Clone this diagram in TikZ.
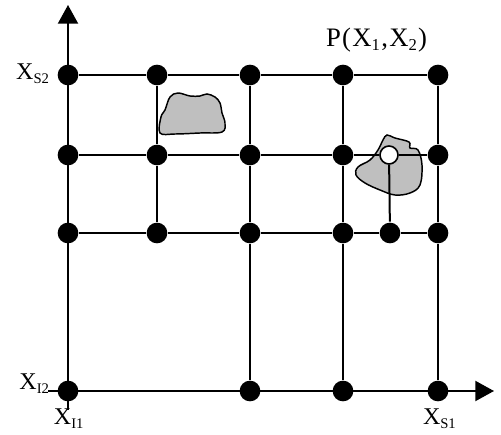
\documentclass[tikz,border=0pt]{standalone}
\usepackage{fontspec}
\setmainfont{Liberation Serif}
\usetikzlibrary{arrows.meta}
\newcommand{\lowsub}[1]{\raisebox{-0.3ex}{\fontsize{11}{12}\selectfont #1}}
\newcommand{\bigsub}[1]{\raisebox{-0.3ex}{\fontsize{12.5}{13}\selectfont #1}}

\begin{document}
\begin{tikzpicture}[x=0.75pt,y=-0.75pt,line width=1.5pt,
  dot/.style={circle,fill=black,minimum size=15.5pt,inner sep=0pt},
  hole/.style={circle,draw=black,fill=white,line width=1.2pt,minimum size=13.5pt,inner sep=0pt},
  lbl/.style={inner sep=0pt,font=\fontsize{18}{20}\selectfont},
  blob/.style={draw=black,fill=black!25,line width=1.1pt},
  axisarrow/.style={-{Triangle[length=14pt,width=15pt]}}]
        \useasboundingbox (0,0) rectangle (501,435);

        % obstacles
        \draw[blob] plot[smooth cycle,tension=0.6] coordinates {(160,133) (161,117) (165,110) (170,97) (178,93) (190,96) (200,96) (207,94) (215,97) (220,103) (222,113) (225,123) (222,132) (200,133) (175,134)};
        \draw[blob] plot[smooth cycle,tension=0.6] coordinates {(387,135) (395,138) (409,142) (410,148) (418,150) (422,165) (420,185) (410,193) (395,195) (380,190) (365,183) (356,175) (358,167) (370,160) (378,150) (383,140)};

        % grid points
        \node (a1)[dot] at (68,75) {};
        \node (a2)[dot] at (157,75) {};
        \node (a3)[dot] at (250,75) {};
        \node (a4)[dot] at (343,75) {};
        \node (a5)[dot] at (438,75) {};

        \node (b1)[dot] at (68,155) {};
        \node (b2)[dot] at (157,155) {};
        \node (b3)[dot] at (250,155) {};
        \node (b4)[dot] at (343,155) {};
        \node (bP)[hole] at (389,155) {};
        \node (b5)[dot] at (438,155) {};

        \node (c1)[dot] at (68,233) {};
        \node (c2)[dot] at (157,233) {};
        \node (c3)[dot] at (250,233) {};
        \node (c4)[dot] at (343,233) {};
        \node (c6)[dot] at (390,233) {};
        \node (c5)[dot] at (438,233) {};

        \node (d1)[dot] at (68,391) {};
        \node (d3)[dot] at (250,391) {};
        \node (d4)[dot] at (343,391) {};
        \node (d5)[dot] at (438,391) {};

        \coordinate (yt) at (68,5);
        \coordinate (yb) at (68,410);
        \coordinate (xl) at (48,391);
        \coordinate (xr) at (494,391);

        % labels
        \node (ls2)[lbl,anchor=base east] at (50,80) {X\lowsub{S2}};
        \node (li2)[lbl,anchor=base east] at (50,390) {X\lowsub{I2}};
        \node (li1)[lbl,anchor=base west] at (53,425) {X\lowsub{I1}};
        \node (ls1)[lbl,anchor=base west] at (422,425) {X\lowsub{S1}};
        \node (pt)[lbl,anchor=base west,font=\fontsize{20}{22}\selectfont] at (325,47)
            {P\kern1pt(\kern1ptX\bigsub{1}\kern1pt,\kern1ptX\bigsub{2}\kern1pt)};

        % grid lines
        \draw (a1) -- (a2) -- (a3) -- (a4) -- (a5);
        \draw (b1) -- (b2) -- (b3) -- (b4) -- (bP) -- (b5);
        \draw (c1) -- (c2) -- (c3) -- (c4) -- (c6) -- (c5);
        \draw (a2) -- (b2) -- (c2);
        \draw (a3) -- (b3) -- (c3) -- (d3);
        \draw (a4) -- (b4) -- (c4) -- (d4);
        \draw (a5) -- (b5) -- (c5) -- (d5);
        \draw (bP) -- (c6);

        % axes
        \draw[axisarrow] (yb) -- (yt);
        \draw[axisarrow] (xl) -- (xr);
    \end{tikzpicture}
\end{document}
